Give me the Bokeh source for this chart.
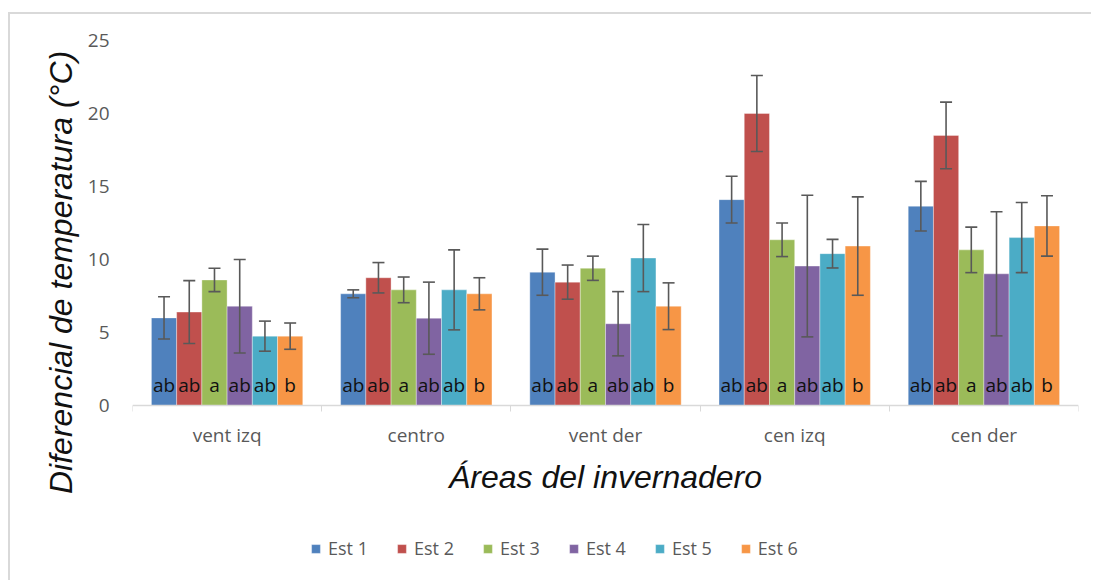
from bokeh.plotting import figure
from bokeh.models import (ColumnDataSource, Whisker, TeeHead, FixedTicker, Legend, LegendItem,
                          Range1d, LabelSet)
from bokeh.core.properties import value
from bokeh.embed import file_html
from bokeh.resources import INLINE

areas = ["vent izq", "centro", "vent der", "cen izq", "cen der"]
series = ["Est 1", "Est 2", "Est 3", "Est 4", "Est 5", "Est 6"]
colors = ["#4F81BD", "#C0504D", "#9BBB59", "#8064A2", "#4BACC6", "#F79646"]

# mean values per station across areas
est1 = [6.0, 7.65, 9.13, 14.1, 13.65]
est2 = [6.4, 8.75, 8.45, 20.0, 18.5]
est3 = [8.6, 7.92, 9.4, 11.35, 10.66]
est4 = [6.8, 5.98, 5.6, 9.55, 9.02]
est5 = [4.75, 7.92, 10.1, 10.4, 11.5]
est6 = [4.75, 7.65, 6.8, 10.92, 12.3]

# error (± half-width)
err1 = [1.45, 0.27, 1.58, 1.6, 1.7]
err2 = [2.15, 1.04, 1.17, 2.6, 2.28]
err3 = [0.8, 0.88, 0.83, 1.15, 1.56]
err4 = [3.2, 2.47, 2.2, 4.85, 4.25]
err5 = [1.03, 2.74, 2.3, 0.98, 2.4]
err6 = [0.9, 1.1, 1.6, 3.37, 2.07]

letters = ["ab", "ab", "a", "ab", "ab", "b"]
y_ticks = [0, 5, 10, 15, 20, 25]

values = [est1, est2, est3, est4, est5, est6]
errors = [err1, err2, err3, err4, err5, err6]

FONT = "Open Sans"
GRAY = "#595959"

p = figure(width=1083, height=568, output_backend="svg", toolbar_location=None,
           x_range=Range1d(0, len(areas)), y_range=Range1d(-11.644, 25),
           min_border_left=122, min_border_right=15, min_border_top=26, min_border_bottom=7)
p.styles = {"border-top": "2px solid #d9d9d9", "border-left": "2px solid #d9d9d9",
            "margin-top": "12px", "margin-left": "8px"}
p.outline_line_color = None
p.xgrid.visible = False
p.ygrid.visible = False
p.background_fill_color = "white"
p.border_fill_color = "white"

n = len(series)
bw = 1.0 / (n + 1.5)
items = []
for j, (vals, errs) in enumerate(zip(values, errors)):
    xs = [i + 0.5 + (j - (n - 1) / 2) * bw for i in range(len(areas))]
    src = ColumnDataSource(dict(x=xs, top=vals, up=[v + e for v, e in zip(vals, errs)],
                                lo=[v - e for v, e in zip(vals, errs)],
                                lab=[letters[j]] * len(areas), ly=[1.4] * len(areas)))
    r = p.vbar(x="x", top="top", width=bw, bottom=0, source=src, fill_color=colors[j],
               line_color="white", line_width=0.6, line_alpha=0.6)
    items.append(LegendItem(label=series[j], renderers=[r]))
    w = Whisker(source=src, base="x", upper="up", lower="lo", line_color="#595959", line_width=1.6,
                level="overlay",
                upper_head=TeeHead(size=12, line_color="#595959", line_width=1.6),
                lower_head=TeeHead(size=12, line_color="#595959", line_width=1.6))
    p.add_layout(w)
    p.add_layout(LabelSet(x="x", y="ly", text="lab", source=src, text_align="center",
                          text_baseline="middle", text_font=value(FONT), text_font_size="19px",
                          text_color="#111111", level="overlay"))

# x axis drawn at y = 0
p.xaxis.fixed_location = 0
p.xaxis.ticker = FixedTicker(ticks=[i + 0.5 for i in range(len(areas))],
                             minor_ticks=list(range(len(areas) + 1)))
p.xaxis.major_label_overrides = {i + 0.5: a for i, a in enumerate(areas)}
p.xaxis.major_tick_line_color = None
p.xaxis.minor_tick_out = 6
p.xaxis.minor_tick_in = 0
p.xaxis.minor_tick_line_color = "#d9d9d9"
p.xaxis.axis_line_color = "#d9d9d9"
p.xaxis.axis_line_width = 1.5
p.xaxis.major_label_text_font = FONT
p.xaxis.major_label_text_font_size = "19px"
p.xaxis.major_label_text_color = GRAY
p.xaxis.major_label_standoff = 11
p.xaxis.axis_label = "Áreas del invernadero"
p.xaxis.axis_label_text_font = "Liberation Sans"
p.xaxis.axis_label_text_font_style = "italic"
p.xaxis.axis_label_text_font_size = "32px"
p.xaxis.axis_label_text_color = "#111111"
p.xaxis.axis_label_standoff = 7

p.yaxis.ticker = FixedTicker(ticks=y_ticks)
p.yaxis.axis_line_color = None
p.yaxis.major_tick_line_color = None
p.yaxis.minor_tick_line_color = None
p.yaxis.major_label_text_font = FONT
p.yaxis.major_label_text_font_size = "19px"
p.yaxis.major_label_text_color = GRAY
p.yaxis.major_label_standoff = 17
# leading no-break spaces lift the title so it sits where the original places it
p.yaxis.axis_label = "\u00a0" * 8 + "Diferencial de temperatura (°C)"
p.yaxis.axis_label_text_font = "Liberation Sans"
p.yaxis.axis_label_text_font_style = "italic"
p.yaxis.axis_label_text_font_size = "32px"
p.yaxis.axis_label_text_color = "#111111"
p.yaxis.axis_label_standoff = 6

legend = Legend(items=items, orientation="horizontal", location=(178, 15),
                label_text_font=FONT, label_text_font_size="18px", label_text_color=GRAY,
                glyph_width=11, glyph_height=11, label_standoff=7, spacing=28,
                padding=0, margin=0, border_line_color=None, background_fill_alpha=0)
p.add_layout(legend, "center")

open("out.html", "w").write(file_html(p, INLINE))
